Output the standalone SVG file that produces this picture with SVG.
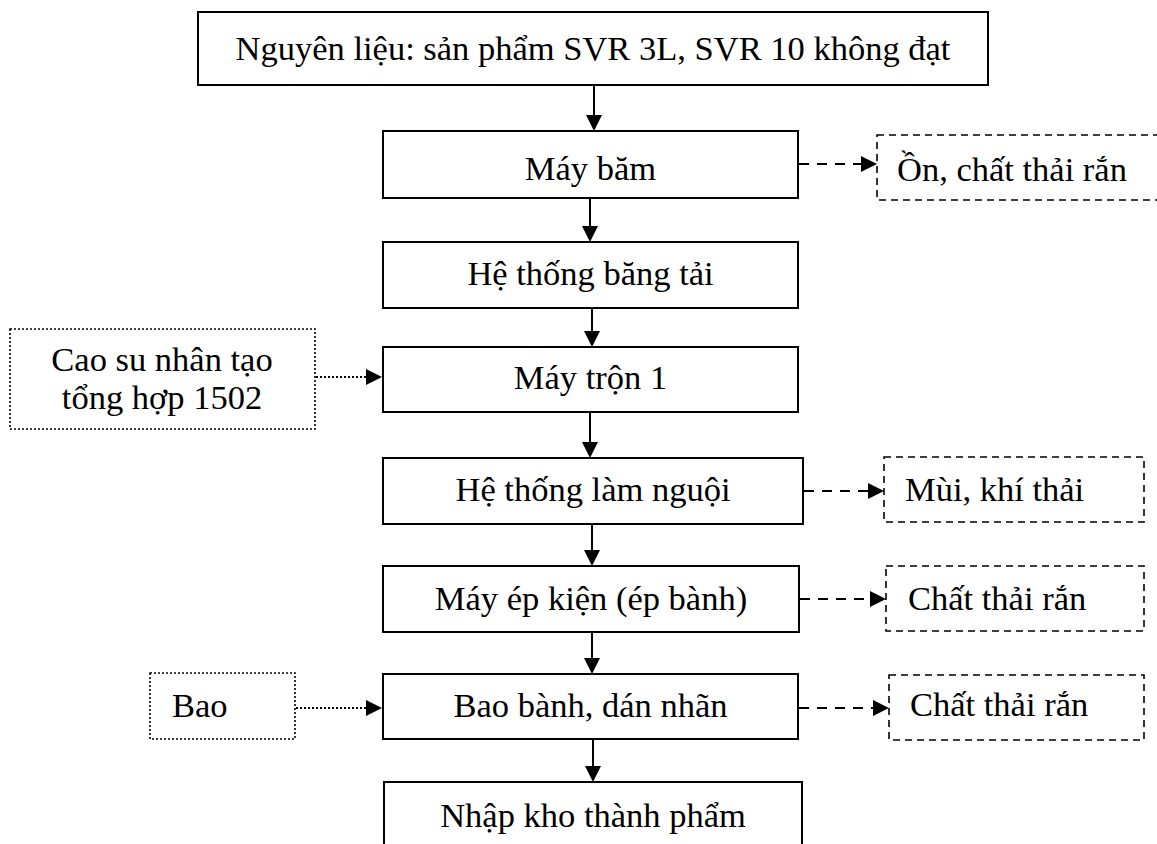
<svg xmlns="http://www.w3.org/2000/svg" width="1157" height="844" viewBox="0 0 1157 844">
  <style>
    text { font-family: "Liberation Serif", "Times New Roman", serif; font-size: 34.5px; fill: #000; }
    .c { text-anchor: middle; }
    .box { fill: #fff; stroke: #000; stroke-width: 2; }
    .dash-box { fill: #fff; stroke: #000; stroke-width: 1.6; stroke-dasharray: 7 5; }
    .dot-box { fill: #fff; stroke: #000; stroke-width: 1.6; stroke-dasharray: 2 2; }
    .flow { stroke: #000; stroke-width: 2; fill: none; }
    .flow-dash { stroke: #000; stroke-width: 2; fill: none; stroke-dasharray: 10 8; }
    .flow-dot { stroke: #000; stroke-width: 2; fill: none; stroke-dasharray: 2 2; }
  </style>
  <defs>
    <marker id="head" viewBox="0 0 16 16" refX="1" refY="8" markerWidth="16" markerHeight="16" markerUnits="userSpaceOnUse" orient="auto">
      <path d="M0,0 L16,8 L0,16 z" fill="#000"/>
    </marker>
  </defs>

  <rect width="1157" height="844" fill="#fff"/>

  <!-- main process column -->
  <g id="raw-material">
    <rect class="box" x="198" y="12" width="790" height="73"/>
    <text class="c" x="593" y="60">Nguyên liệu: sản phẩm SVR 3L, SVR 10 không đạt</text>
  </g>
  <g id="shredder">
    <rect class="box" x="383" y="131" width="415" height="67"/>
    <text class="c" x="590.5" y="180">Máy băm</text>
  </g>
  <g id="conveyor">
    <rect class="box" x="383" y="242" width="415" height="66"/>
    <text class="c" x="590.5" y="285">Hệ thống băng tải</text>
  </g>
  <g id="mixer">
    <rect class="box" x="383" y="347" width="415" height="65"/>
    <text class="c" x="590.5" y="389">Máy trộn 1</text>
  </g>
  <g id="cooling">
    <rect class="box" x="383" y="458" width="420" height="66"/>
    <text class="c" x="593" y="501">Hệ thống làm nguội</text>
  </g>
  <g id="baler">
    <rect class="box" x="383" y="566" width="416" height="66"/>
    <text class="c" x="591" y="610">Máy ép kiện (ép bành)</text>
  </g>
  <g id="packing">
    <rect class="box" x="383" y="674" width="415" height="65"/>
    <text class="c" x="590.5" y="717">Bao bành, dán nhãn</text>
  </g>
  <g id="warehouse">
    <rect class="box" x="384" y="782" width="418" height="80"/>
    <text class="c" x="593" y="827">Nhập kho thành phẩm</text>
  </g>

  <!-- waste outputs -->
  <g id="waste-noise">
    <rect class="dash-box" x="877" y="135" width="290" height="65"/>
    <text x="897" y="181">Ồn, chất thải rắn</text>
  </g>
  <g id="waste-odour">
    <rect class="dash-box" x="884" y="457" width="260" height="65"/>
    <text x="905" y="501">Mùi, khí thải</text>
  </g>
  <g id="waste-solid-1">
    <rect class="dash-box" x="886" y="566" width="258" height="65"/>
    <text x="908" y="610">Chất thải rắn</text>
  </g>
  <g id="waste-solid-2">
    <rect class="dash-box" x="889" y="675" width="255" height="65"/>
    <text x="910" y="716">Chất thải rắn</text>
  </g>

  <!-- additional inputs -->
  <g id="input-synthetic-rubber">
    <rect class="dot-box" x="10" y="329" width="305" height="100"/>
    <text class="c" x="162" y="371">Cao su nhân tạo</text>
    <text class="c" x="162" y="409">tổng hợp 1502</text>
  </g>
  <g id="input-bags">
    <rect class="dot-box" x="150" y="673" width="145" height="66"/>
    <text x="172" y="717">Bao</text>
  </g>

  <!-- connectors -->
  <g id="connectors">
    <line class="flow" x1="594" y1="85" x2="594" y2="116" marker-end="url(#head)"/>
    <line class="flow" x1="590" y1="198" x2="590" y2="227" marker-end="url(#head)"/>
    <line class="flow" x1="592" y1="308" x2="592" y2="332" marker-end="url(#head)"/>
    <line class="flow" x1="590" y1="412" x2="590" y2="443" marker-end="url(#head)"/>
    <line class="flow" x1="592" y1="524" x2="592" y2="551" marker-end="url(#head)"/>
    <line class="flow" x1="592" y1="632" x2="592" y2="659" marker-end="url(#head)"/>
    <line class="flow" x1="593" y1="739" x2="593" y2="767" marker-end="url(#head)"/>

    <line class="flow-dash" x1="799" y1="164" x2="862" y2="164" marker-end="url(#head)"/>
    <line class="flow-dash" x1="804" y1="491" x2="869" y2="491" marker-end="url(#head)"/>
    <line class="flow-dash" x1="800" y1="599" x2="871" y2="599" marker-end="url(#head)"/>
    <line class="flow-dash" x1="799" y1="708" x2="874" y2="708" marker-end="url(#head)"/>

    <line class="flow-dot" x1="316" y1="377" x2="367" y2="377" marker-end="url(#head)"/>
    <line class="flow-dot" x1="296" y1="708" x2="367" y2="708" marker-end="url(#head)"/>
  </g>
</svg>
